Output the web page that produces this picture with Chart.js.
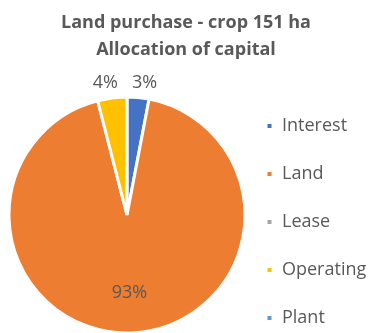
<!DOCTYPE html>
<html>
<head>
<meta charset="utf-8">
<script src="https://cdn.jsdelivr.net/npm/chart.js@4/dist/chart.umd.min.js"></script>
<style>
  html, body { margin: 0; padding: 0; background: #fff; }
  #wrap { width: 372px; height: 333px; position: relative; }
</style>
</head>
<body>
<div id="wrap"><canvas id="pie"></canvas></div>
<script>
const titleLines = ['Land purchase - crop 151 ha', 'Allocation of capital'];
const categories = ['Interest', 'Land', 'Lease', 'Operating', 'Plant'];
const shares = [3, 93, 0, 4, 0];
const sliceColors = ['#4472C4', '#ED7D31', '#A5A5A5', '#FFC000', '#5B9BD5'];

const textGrey = '#595959';
const fontFace = '"Open Sans", "DejaVu Sans", sans-serif';

// percent labels: small slices go outside the pie, big ones inside
const sliceLabels = {
  id: 'sliceLabels',
  afterDatasetsDraw(chart) {
    const ctx = chart.ctx;
    const meta = chart.getDatasetMeta(0);
    const total = shares.reduce((a, b) => a + b, 0);
    ctx.save();
    ctx.font = '18px ' + fontFace;
    ctx.fillStyle = textGrey;
    ctx.textAlign = 'center';
    ctx.textBaseline = 'middle';
    meta.data.forEach((arc, i) => {
      const v = shares[i];
      if (!v) return;
      const txt = v + '%';
      const p = arc.getProps(['x', 'y', 'startAngle', 'endAngle', 'outerRadius'], true);
      const mid = (p.startAngle + p.endAngle) / 2;
      const small = v / total < 0.1;
      const dist = small ? p.outerRadius + 15 : p.outerRadius * 0.66;
      let x = p.x + Math.cos(mid) * dist;
      const y = p.y + Math.sin(mid) * dist;
      if (small) x += Math.sign(Math.cos(mid)) * ctx.measureText(txt).width * 0.2;
      ctx.fillText(txt, x, y);
    });
    ctx.restore();
  }
};

// centre the title over the whole canvas, not over the padded area
const wideTitle = {
  id: 'wideTitle',
  afterLayout(chart) {
    if (chart.titleBlock) {
      chart.titleBlock.left = 0;
      chart.titleBlock.right = chart.width;
    }
  }
};

new Chart(document.getElementById('pie'), {
  type: 'pie',
  data: {
    labels: categories,
    datasets: [{
      data: shares,
      backgroundColor: sliceColors,
      borderColor: '#ffffff',
      borderWidth: 3,
      radius: 118,
    }],
  },
  options: {
    responsive: true,
    maintainAspectRatio: false,
    animation: false,
    layout: { padding: { left: 18, right: 0, top: 0, bottom: -24 } },
    plugins: {
      title: {
        display: true,
        text: titleLines,
        color: textGrey,
        font: { family: fontFace, size: 18, weight: 'bold', lineHeight: 1.5 },
        padding: { top: 9, bottom: 34 },
      },
      legend: {
        position: 'right',
        align: 'end',
        maxWidth: 136,
        labels: {
          color: textGrey,
          font: { family: fontFace, size: 18 },
          boxWidth: 7,
          boxHeight: 7,
          padding: 30,
        },
      },
      tooltip: { enabled: false },
    },
  },
  plugins: [sliceLabels, wideTitle],
});
</script>
</body>
</html>
